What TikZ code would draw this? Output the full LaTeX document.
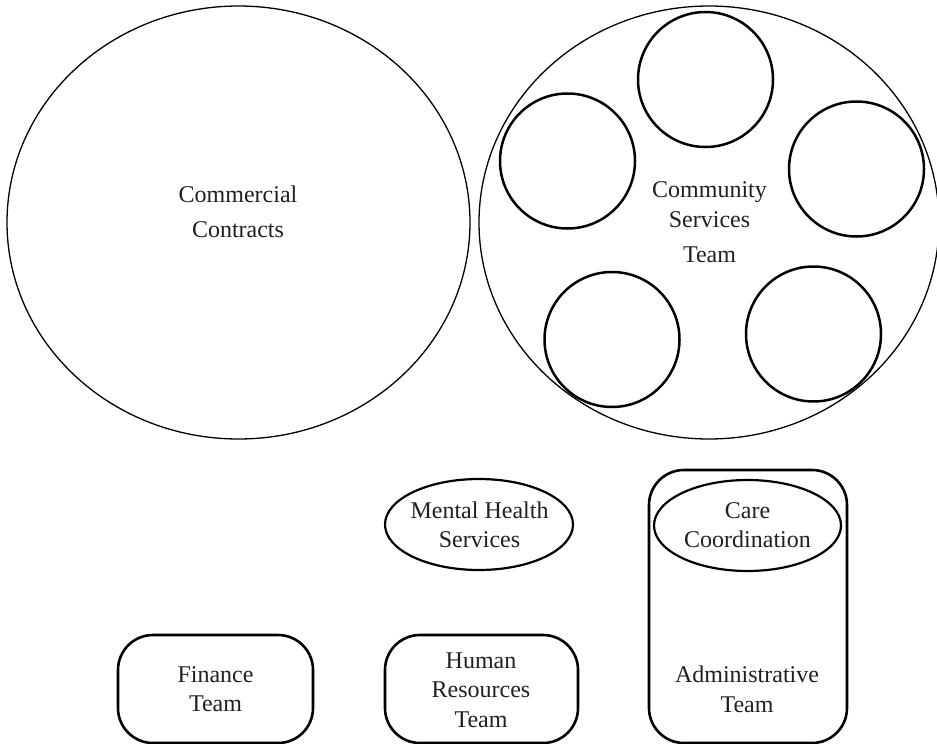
\documentclass[tikz,border=0pt]{standalone}
\usepackage{fontspec}
\setmainfont{Liberation Serif}
\usetikzlibrary{shapes.geometric}
\definecolor{txt}{HTML}{231F20}
\begin{document}
\begin{tikzpicture}[x=1pt,y=-1pt,
  bigell/.style={draw, ellipse, inner sep=0pt, line width=1.3pt},
  subcirc/.style={draw, circle, inner sep=0pt, minimum size=135pt, line width=2.5pt},
  smallell/.style={draw, ellipse, inner sep=0pt, line width=2.2pt},
  teambox/.style={draw, rectangle, rounded corners=35pt, inner sep=0pt, line width=2.6pt},
  lbl/.style={anchor=base, inner sep=0pt, text=txt, font=\fontsize{24}{29}\selectfont}]
\useasboundingbox (0,0) rectangle (937,744);
\clip (0,0) rectangle (937,744);
\fill[white] (0,0) rectangle (937,744);

% big ellipses
\node[bigell, minimum width=463pt, minimum height=433pt] (commercial) at (238.5,222.5) {};
\node[bigell, minimum width=460pt, minimum height=433pt] (community) at (709,222.5) {};

% sub circles
\node[subcirc] (c1) at (705.5,79.5) {};
\node[subcirc] (c2) at (567.5,161) {};
\node[subcirc] (c3) at (856.5,169) {};
\node[subcirc] (c4) at (612,339.5) {};
\node[subcirc] (c5) at (813.5,334) {};

% lower shapes
\node[smallell, minimum width=188pt, minimum height=91pt] (mhs) at (479,524.5) {};
\node[teambox, minimum width=198pt, minimum height=273pt] (admin) at (748,606.5) {};
\node[smallell, minimum width=187pt, minimum height=91pt] (care) at (747.5,525.5) {};
\node[teambox, minimum width=195pt, minimum height=108pt] (finance) at (215.5,689) {};
\node[teambox, minimum width=193pt, minimum height=108pt] (hr) at (481.5,689) {};

% labels
\node[lbl] (t1a) at (238,202) {Commercial};
\node[lbl] (t1b) at (238,237) {Contracts};
\node[lbl] (t2a) at (709.5,197) {Community};
\node[lbl] (t2b) at (709.5,227) {Services};
\node[lbl] (t2c) at (709.5,262) {Team};
\node[lbl] (t3a) at (479.5,518) {Mental Health};
\node[lbl] (t3b) at (479.5,547) {Services};
\node[lbl] (t4a) at (747.5,518) {Care};
\node[lbl] (t4b) at (747.5,547) {Coordination};
\node[lbl] (t5a) at (215.5,682) {Finance};
\node[lbl] (t5b) at (215.5,711) {Team};
\node[lbl] (t6a) at (481,668) {Human};
\node[lbl] (t6b) at (481,697) {Resources};
\node[lbl] (t6c) at (481,727) {Team};
\node[lbl] (t7a) at (747,682) {Administrative};
\node[lbl] (t7b) at (747,712) {Team};
\end{tikzpicture}
\end{document}
